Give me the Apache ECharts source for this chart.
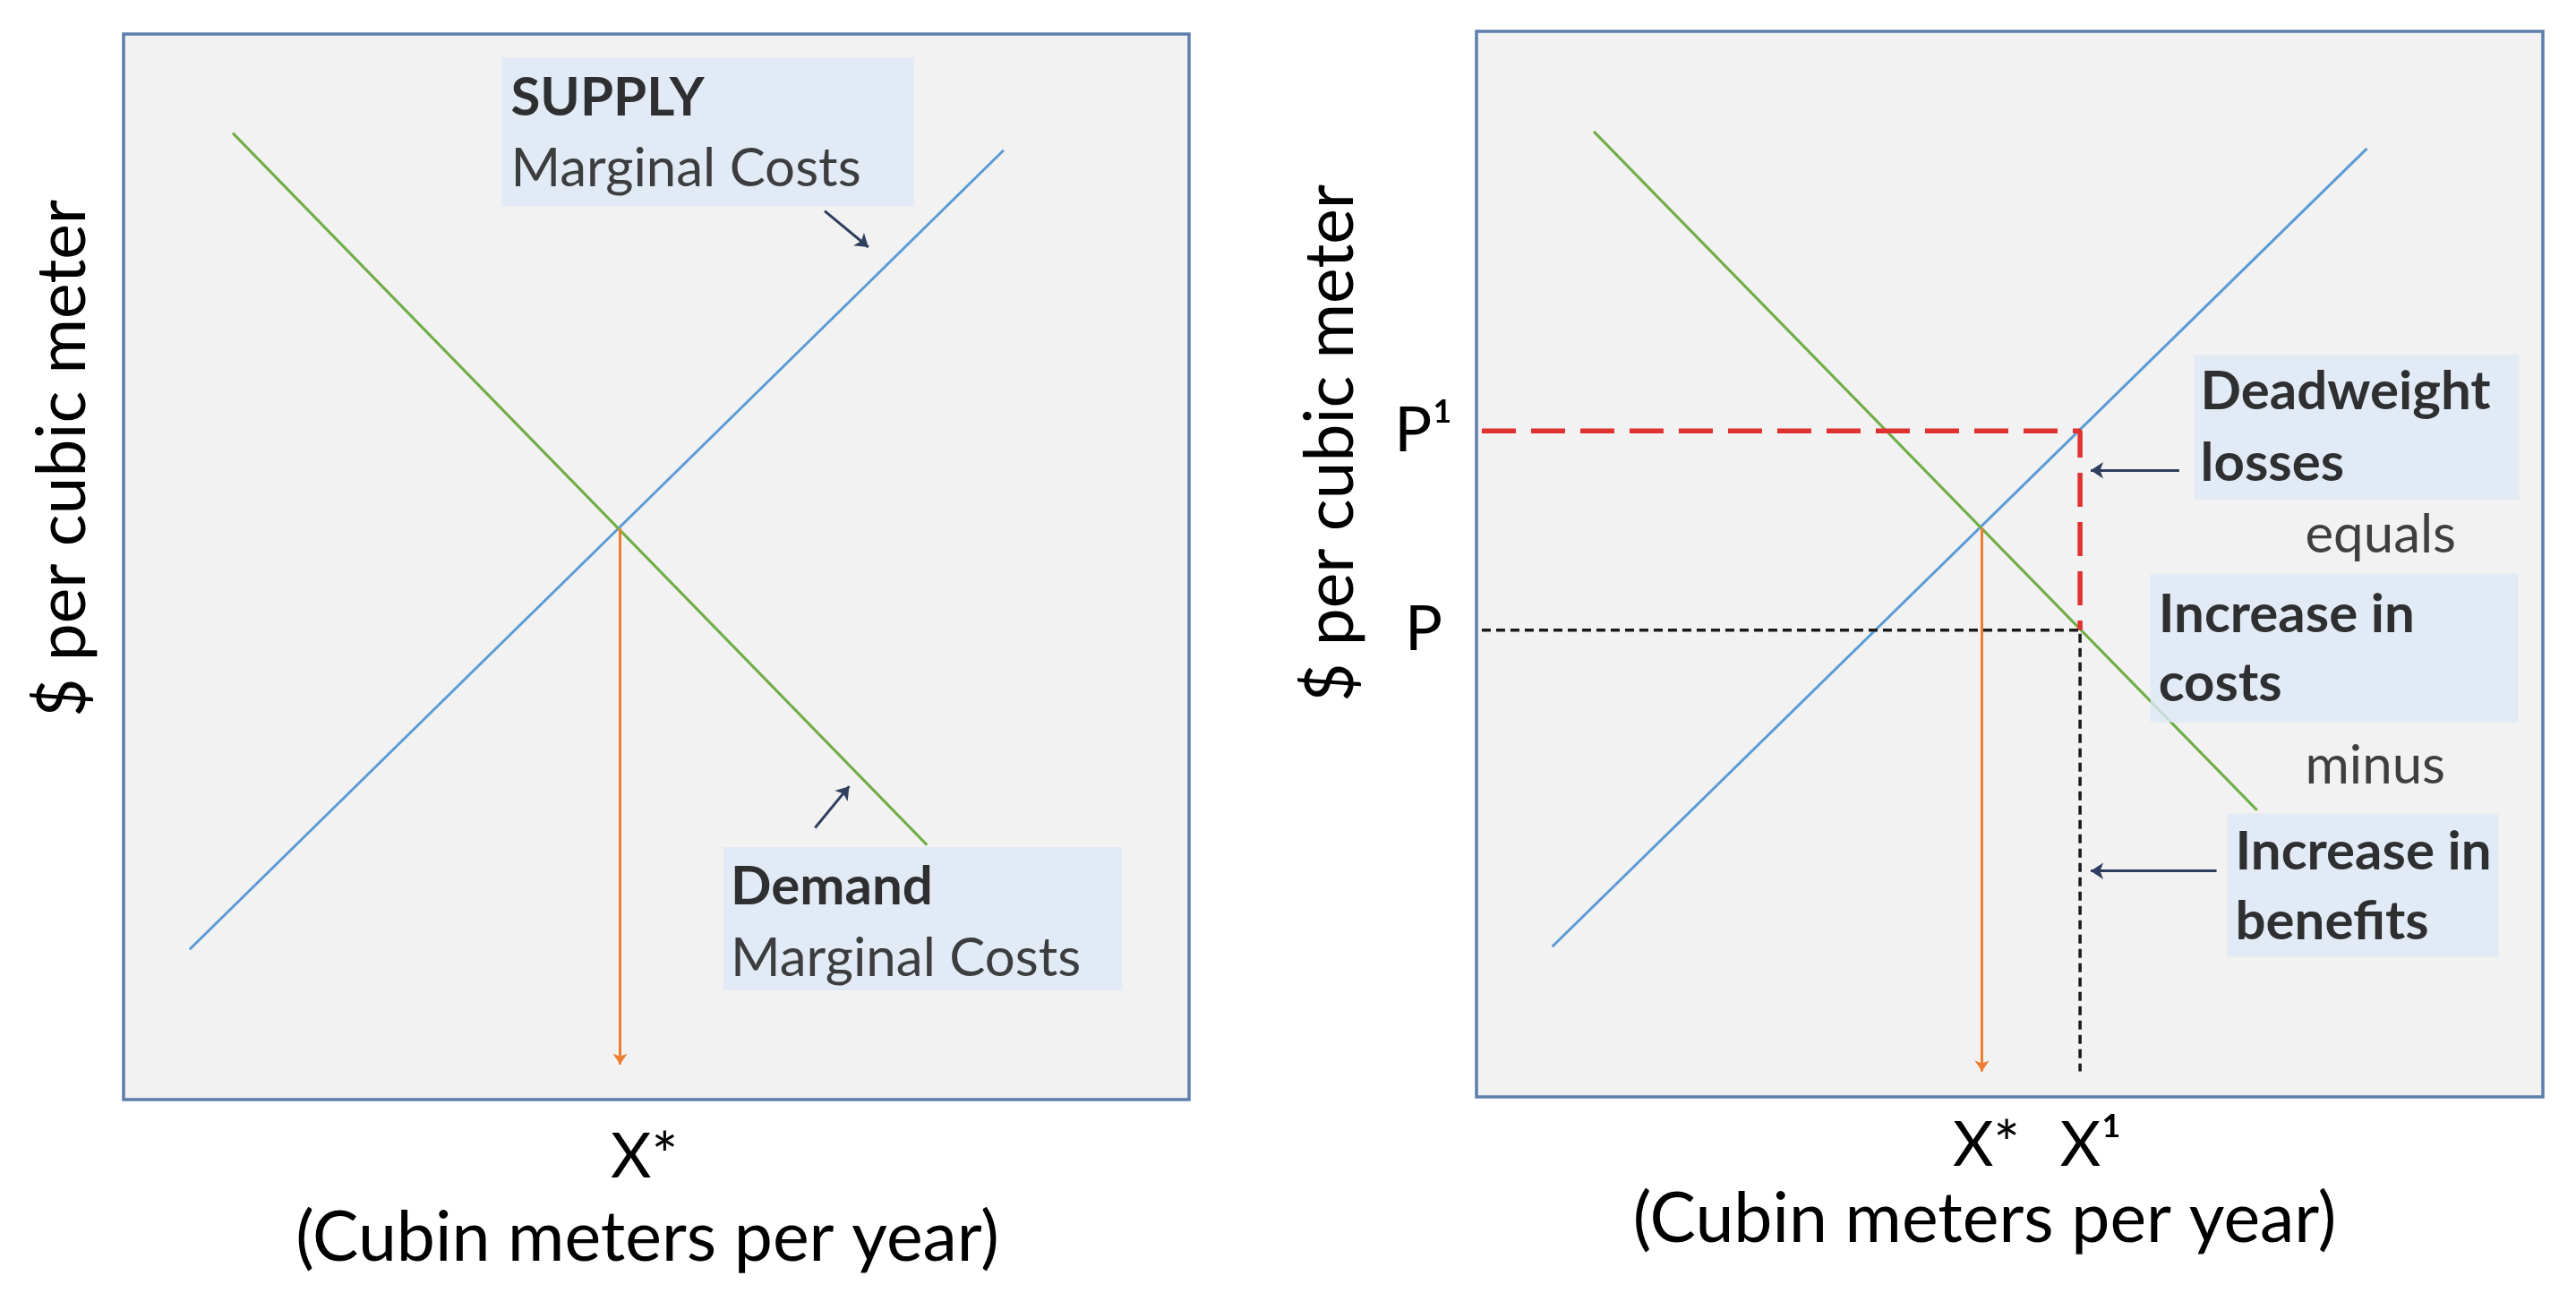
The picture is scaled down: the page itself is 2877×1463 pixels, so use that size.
<!DOCTYPE html>
<html>
<head>
<meta charset="utf-8">
<script src="https://cdn.jsdelivr.net/npm/echarts@6/dist/echarts.min.js"></script>
<style>
html,body{margin:0;padding:0;background:#fff;}
#c{width:2877px;height:1463px;}
</style>
</head>
<body>
<div id="c"></div>
<script>
// ---- data (both panels use a 0..100 abstract scale) ----
const leftSupply  = [[6.2, 14.1], [82.6, 89.1]];
const leftDemand  = [[10.25, 90.7], [75.4, 23.9]];
const leftEq      = [46.6, 53.6];      // [X*, price]
const leftFloor   = 3.3;               // arrow end

const rightSupply = [[7.1, 14.1], [83.5, 89.0]];
const rightDemand = [[11.0, 90.6], [73.2, 26.9]];
const rightEq     = [47.4, 53.4];      // [X*, price]
const rightX1     = 56.6;
const rightP1     = 62.5;
const rightP      = 43.8;
const rightStart  = 0.5;
const rightFloor  = 2.4;

const xTicksLeft  = [leftEq[0]];
const xTickLabelsLeft = ['X*'];
const xTicksRight = [rightEq[0], rightX1];
const xTickLabelsRight = ['X*', 'X¹'];
const yTicksRight = [rightP, rightP1];
const yTickLabelsRight = ['P', 'P¹'];

const xName = '(Cubin meters per year)';
const yName = '$ per cubic meter';

// annotation boxes: [x, y] = top-left corner in data units
const leftBoxes = [
  {pos: [35.5, 97.8], title: 'SUPPLY', sub: 'Marginal Costs'},
  {pos: [56.3, 23.7], title: 'Demand', sub: 'Marginal Costs'}
];
const rightBoxes = [
  {pos: [67.3, 69.6], l1: 'Deadweight', l2: 'losses'},
  {pos: [63.2, 49.1], l1: 'Increase in', l2: 'costs'},
  {pos: [70.4, 26.6], l1: 'Increase in', l2: 'benefits'}
];
const rightWords = [
  {pos: [77.7, 55.7], text: 'equals'},
  {pos: [77.7, 34.0], text: 'minus'}
];
const leftPointers  = [[[65.8, 83.4], [69.9, 80.0]], [[64.9, 25.5], [68.1, 29.4]]];
const rightPointers = [[[65.9, 58.8], [57.6, 58.8]], [[69.4, 21.2], [57.6, 21.2]]];

// ---- styles ----
const FONT = 'Lato';
const BLUE = '#5b9bd5', GREEN = '#70ad47', ORANGE = '#ed7d31', RED = '#e03131';
const BOXFILL = '#dde8f5', NAVY = '#2f3f5f';

function pick(vals, labels, styles) {
  return function (v) {
    let best = 0, d = 1e9;
    vals.forEach((t, i) => { if (Math.abs(t - v) < d) { d = Math.abs(t - v); best = i; } });
    if (d >= 0.5) return '';
    return styles ? '{' + styles[best] + '|' + labels[best] + '}' : labels[best];
  };
}

function baseX(gi, ticks, labels, styles, rich, labelMargin, namePad, nameGap) {
  return {
    type: 'value', gridIndex: gi, min: 0, max: 100,
    axisLine: {show: false}, axisTick: {show: false}, splitLine: {show: false},
    axisLabel: {show: true, customValues: ticks, formatter: pick(ticks, labels, styles),
      margin: labelMargin, fontFamily: FONT, fontSize: 70, color: '#000', rich: rich},
    name: xName, nameLocation: 'middle', nameGap: nameGap,
    nameTextStyle: {fontFamily: FONT, fontSize: 77, color: '#000', padding: namePad}
  };
}
function baseY(gi, ticks, labels, nameGap, namePad) {
  const ax = {
    type: 'value', gridIndex: gi, min: 0, max: 100,
    axisLine: {show: false}, axisTick: {show: false}, splitLine: {show: false},
    axisLabel: {show: false},
    name: yName, nameLocation: 'middle', nameGap: nameGap, nameRotate: 90,
    nameTextStyle: {fontFamily: FONT, fontSize: 75, color: '#000', padding: namePad}
  };
  if (ticks) {
    ax.axisLabel = {show: true, customValues: ticks, formatter: pick(ticks, labels),
      margin: 59, align: 'center', fontFamily: FONT, fontSize: 70, color: '#000',
      padding: [40, 0, 0, 0]};
  }
  return ax;
}

function lineSeries(xi, data, color, width, type) {
  return {type: 'line', xAxisIndex: xi, yAxisIndex: xi, data: data, showSymbol: false,
    symbol: 'none', silent: true, z: 2, animation: false,
    lineStyle: {color: color, width: width, type: type || 'solid', cap: 'butt'}};
}
function arrowSeries(xi, segs, color, width, size) {
  return {type: 'lines', coordinateSystem: 'cartesian2d', xAxisIndex: xi, yAxisIndex: xi,
    symbol: ['none', 'arrow'], symbolSize: size, silent: true, z: 3, animation: false,
    lineStyle: {color: color, width: width, opacity: 1},
    data: segs.map(s => ({coords: s}))};
}
function boxSeries(xi, items, cfg) {
  return {type: 'scatter', xAxisIndex: xi, yAxisIndex: xi, symbol: 'rect', symbolSize: 0.01,
    itemStyle: {color: 'rgba(0,0,0,0)'}, silent: true, z: 10, animation: false,
    data: items.map((b, i) => ({value: b.pos, label: {
      show: true, position: [0, 0], align: 'left', verticalAlign: 'top',
      backgroundColor: cfg.fill ? BOXFILL : 'transparent',
      padding: cfg.pad[i], width: cfg.w[i], height: cfg.h[i],
      formatter: cfg.fmt(b),
      rich: {
        b: {fontFamily: FONT, fontWeight: 'bold', fontSize: 60, lineHeight: cfg.lh[i], color: '#000'},
        r: {fontFamily: FONT, fontSize: 60, lineHeight: cfg.lh[i], color: '#111'}
      }
    }}))};
}

const chart = echarts.init(document.getElementById('c'), null, {renderer: 'canvas'});
const gridStyle = {show: true, backgroundColor: '#f2f2f2', borderColor: '#5d7fae', borderWidth: 3.5};
const tickRich = {
  s0: {fontFamily: FONT, fontSize: 70, color: '#000', padding: [0, 0, 0, 54]},
  s1: {fontFamily: FONT, fontSize: 70, color: '#000', padding: [0, 0, 0, 10]},
  s2: {fontFamily: FONT, fontSize: 70, color: '#000', padding: [0, 0, 0, 24]}
};

chart.setOption({
  backgroundColor: '#ffffff',
  animation: false,
  grid: [
    Object.assign({left: 138, top: 38, width: 1190, height: 1190}, gridStyle),
    Object.assign({left: 1649, top: 35, width: 1191, height: 1190}, gridStyle)
  ],
  xAxis: [
    baseX(0, xTicksLeft, xTickLabelsLeft, ['s0'], tickRich, 29, [0, 20, 0, 0], 117),
    baseX(1, xTicksRight, xTickLabelsRight, ['s1', 's2'], tickRich, 19, [0, 56, 0, 0], 99)
  ],
  yAxis: [
    baseY(0, null, null, 30, [0, 0, 0, 242]),
    baseY(1, yTicksRight, yTickLabelsRight, 125, [0, 0, 0, 270])
  ],
  series: [
    // left panel
    lineSeries(0, leftSupply, BLUE, 3),
    lineSeries(0, leftDemand, GREEN, 3),
    arrowSeries(0, [[[leftEq[0], leftEq[1]], [leftEq[0], leftFloor]]], ORANGE, 3, 12),
    arrowSeries(0, leftPointers, NAVY, 3, 14),
    boxSeries(0, leftBoxes, {
      fill: true,
      pad: [[6, 10, 2, 10], [5, 8, 0, 8]],
      w: [440, 429], h: [158, 155], lh: [79, 80],
      fmt: b => '{b|' + b.title + '}\n{r|' + b.sub + '}'
    }),
    // right panel
    lineSeries(1, rightSupply, BLUE, 3),
    lineSeries(1, rightDemand, GREEN, 3),
    lineSeries(1, [[rightStart, rightP1], [rightX1, rightP1], [rightX1, rightP]], RED, 5.5, [38, 17]),
    lineSeries(1, [[rightStart, rightP], [rightX1, rightP], [rightX1, rightFloor]], '#1a1a1a', 3.5, [10, 6]),
    arrowSeries(1, [[[rightEq[0], rightEq[1]], [rightEq[0], rightFloor]]], ORANGE, 3, 12),
    arrowSeries(1, rightPointers, NAVY, 3, 14),
    boxSeries(1, rightBoxes, {
      fill: true,
      pad: [[1, 6, 0, 7], [7, 8, 0, 9], [4, 8, 0, 9]],
      w: [350, 394], h: [160, 159], lh: [80, 77, 78],
      fmt: b => '{b|' + b.l1 + '}\n{b|' + b.l2 + '}'
    }),
    boxSeries(1, rightWords, {
      fill: false,
      pad: [[0, 0, 0, 0], [0, 0, 0, 0]],
      w: [null, null], h: [null, null], lh: [70, 70],
      fmt: b => '{r|' + b.text + '}'
    })
  ]
});
</script>
</body>
</html>
